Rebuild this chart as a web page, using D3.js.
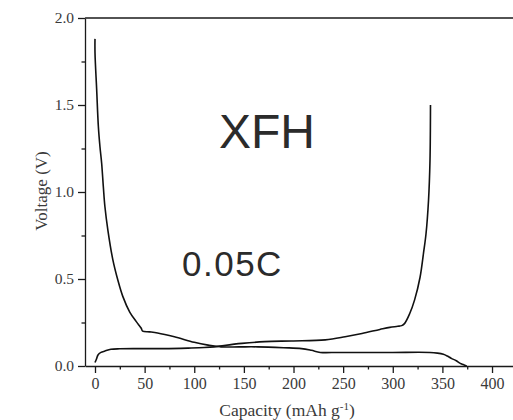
<!DOCTYPE html>
<html>
<head>
<meta charset="utf-8">
<script src="https://cdn.jsdelivr.net/npm/d3@7"></script>
<style>
  html, body { margin: 0; padding: 0; background: #fff; }
  svg { display: block; }
</style>
</head>
<body>
<svg id="chart" width="513" height="420"></svg>
<script>
// ---- data ----
const dischargeCap = [0, 0, 1.7, 3.4, 5, 6.7, 8.4, 10, 13, 18, 23, 28, 35, 41.6, 46.6, 48, 55, 63, 80, 100, 114, 127, 145, 164, 190, 208, 218, 227, 245, 269, 300, 337.5, 345, 351, 355, 359, 364, 368, 371, 374.5];
const dischargeV   = [1.88, 1.80, 1.586, 1.375, 1.26, 1.165, 1.03, 0.915, 0.78, 0.61, 0.494, 0.40, 0.31, 0.255, 0.217, 0.20, 0.196, 0.19, 0.168, 0.136, 0.12, 0.11, 0.11, 0.11, 0.105, 0.10, 0.09, 0.078, 0.078, 0.078, 0.078, 0.078, 0.074, 0.067, 0.057, 0.044, 0.03, 0.015, 0.008, 0.0];
const chargeCap = [0, 1.5, 3, 6, 10, 16, 25, 43, 70, 94, 110, 120, 130, 148, 171, 198, 232, 252, 269, 287, 297, 305, 309, 312, 317, 322, 327.5, 331, 333.5, 336, 337.5, 338];
const chargeV   = [0.02, 0.04, 0.063, 0.078, 0.086, 0.096, 0.099, 0.10, 0.10, 0.103, 0.106, 0.11, 0.118, 0.13, 0.14, 0.144, 0.15, 0.168, 0.187, 0.21, 0.222, 0.228, 0.232, 0.245, 0.30, 0.38, 0.51, 0.65, 0.76, 0.95, 1.18, 1.50];

const xTicks = [0, 50, 100, 150, 200, 250, 300, 350, 400];
const xMinorTicks = [25, 75, 125, 175, 225, 275, 325, 375];
const yTicks = [0.0, 0.5, 1.0, 1.5, 2.0];
const yMinorTicks = [0.25, 0.75, 1.25, 1.75];

const xTitle = "Capacity (mAh g";
const xTitleSup = "-1";
const yTitle = "Voltage (V)";
const sampleLabel = "XFH";
const rateLabel = "0.05C";

// ---- layout ----
const svg = d3.select("#chart");
const x = d3.scaleLinear().domain([-10, 430]).range([85.075, 521.8]);
const y = d3.scaleLinear().domain([0, 2]).range([366, 18]);

const axisColor = "#1a1a1a";
const textColor = "#3a3a3a";
const serif = "'Liberation Serif', 'Times New Roman', serif";

// minor ticks
const xMinorAxis = d3.axisBottom(x).tickValues(xMinorTicks).tickSize(3.5).tickFormat("");
const yMinorAxis = d3.axisLeft(y).tickValues(yMinorTicks).tickSize(3.5).tickFormat("");
svg.append("g").attr("transform", "translate(0,366)").call(xMinorAxis)
  .call(g => g.select(".domain").remove());
svg.append("g").attr("transform", "translate(85,0)").call(yMinorAxis)
  .call(g => g.select(".domain").remove());

// major axes
const xAxis = d3.axisBottom(x).tickValues(xTicks).tickSize(7).tickSizeOuter(0).tickPadding(5)
  .tickFormat(d3.format("d"));
const yAxis = d3.axisLeft(y).tickValues(yTicks).tickSize(7).tickSizeOuter(0).tickPadding(4)
  .tickFormat(d3.format(".1f"));

const gx = svg.append("g").attr("transform", "translate(0,366)").call(xAxis);
const gy = svg.append("g").attr("transform", "translate(85,0)").call(yAxis);

gx.selectAll("text").attr("font-family", serif).attr("font-size", 16).attr("fill", textColor);
gy.selectAll("text").attr("font-family", serif).attr("font-size", 15.5).attr("fill", textColor);
svg.selectAll(".tick line").attr("stroke", axisColor).attr("stroke-width", 1.3);
svg.selectAll(".domain").attr("stroke", axisColor).attr("stroke-width", 1.3);

// top frame line
svg.append("line")
  .attr("x1", x(-10)).attr("x2", 513)
  .attr("y1", y(2)).attr("y2", y(2))
  .attr("stroke", axisColor).attr("stroke-width", 1.3);

// ---- curves ----
const line = d3.line()
  .x(d => x(d[0]))
  .y(d => y(d[1]))
  .curve(d3.curveCatmullRom.alpha(0.5));

const discharge = dischargeCap.map((c, i) => [c, dischargeV[i]]);
const charge = chargeCap.map((c, i) => [c, chargeV[i]]);

svg.append("path").datum(discharge).attr("d", line)
  .attr("fill", "none").attr("stroke", "#111").attr("stroke-width", 1.6);
svg.append("path").datum(charge).attr("d", line)
  .attr("fill", "none").attr("stroke", "#111").attr("stroke-width", 1.6);

// ---- axis titles ----
const xt = svg.append("text")
  .attr("x", 287).attr("y", 416)
  .attr("text-anchor", "middle")
  .attr("font-family", serif).attr("font-size", 17.5)
  .attr("fill", textColor);
xt.append("tspan").text(xTitle);
xt.append("tspan").attr("dy", -6).attr("font-size", 11).text(xTitleSup);
xt.append("tspan").attr("dy", 6).text(")");

svg.append("text")
  .attr("transform", "translate(47,191) rotate(-90)")
  .attr("text-anchor", "middle")
  .attr("font-family", serif).attr("font-size", 17)
  .attr("fill", textColor)
  .text(yTitle);

// ---- annotations ----
svg.append("text")
  .attr("x", 219).attr("y", 148)
  .attr("font-family", "'Liberation Sans', Arial, sans-serif")
  .attr("font-size", 48)
  .attr("fill", "#2b2b2b")
  .text(sampleLabel);

svg.append("text")
  .attr("x", 182).attr("y", 276)
  .attr("font-family", "'Liberation Sans', Arial, sans-serif")
  .attr("font-size", 35)
  .attr("letter-spacing", 1.5)
  .attr("fill", "#2b2b2b")
  .text(rateLabel);
</script>
</body>
</html>
